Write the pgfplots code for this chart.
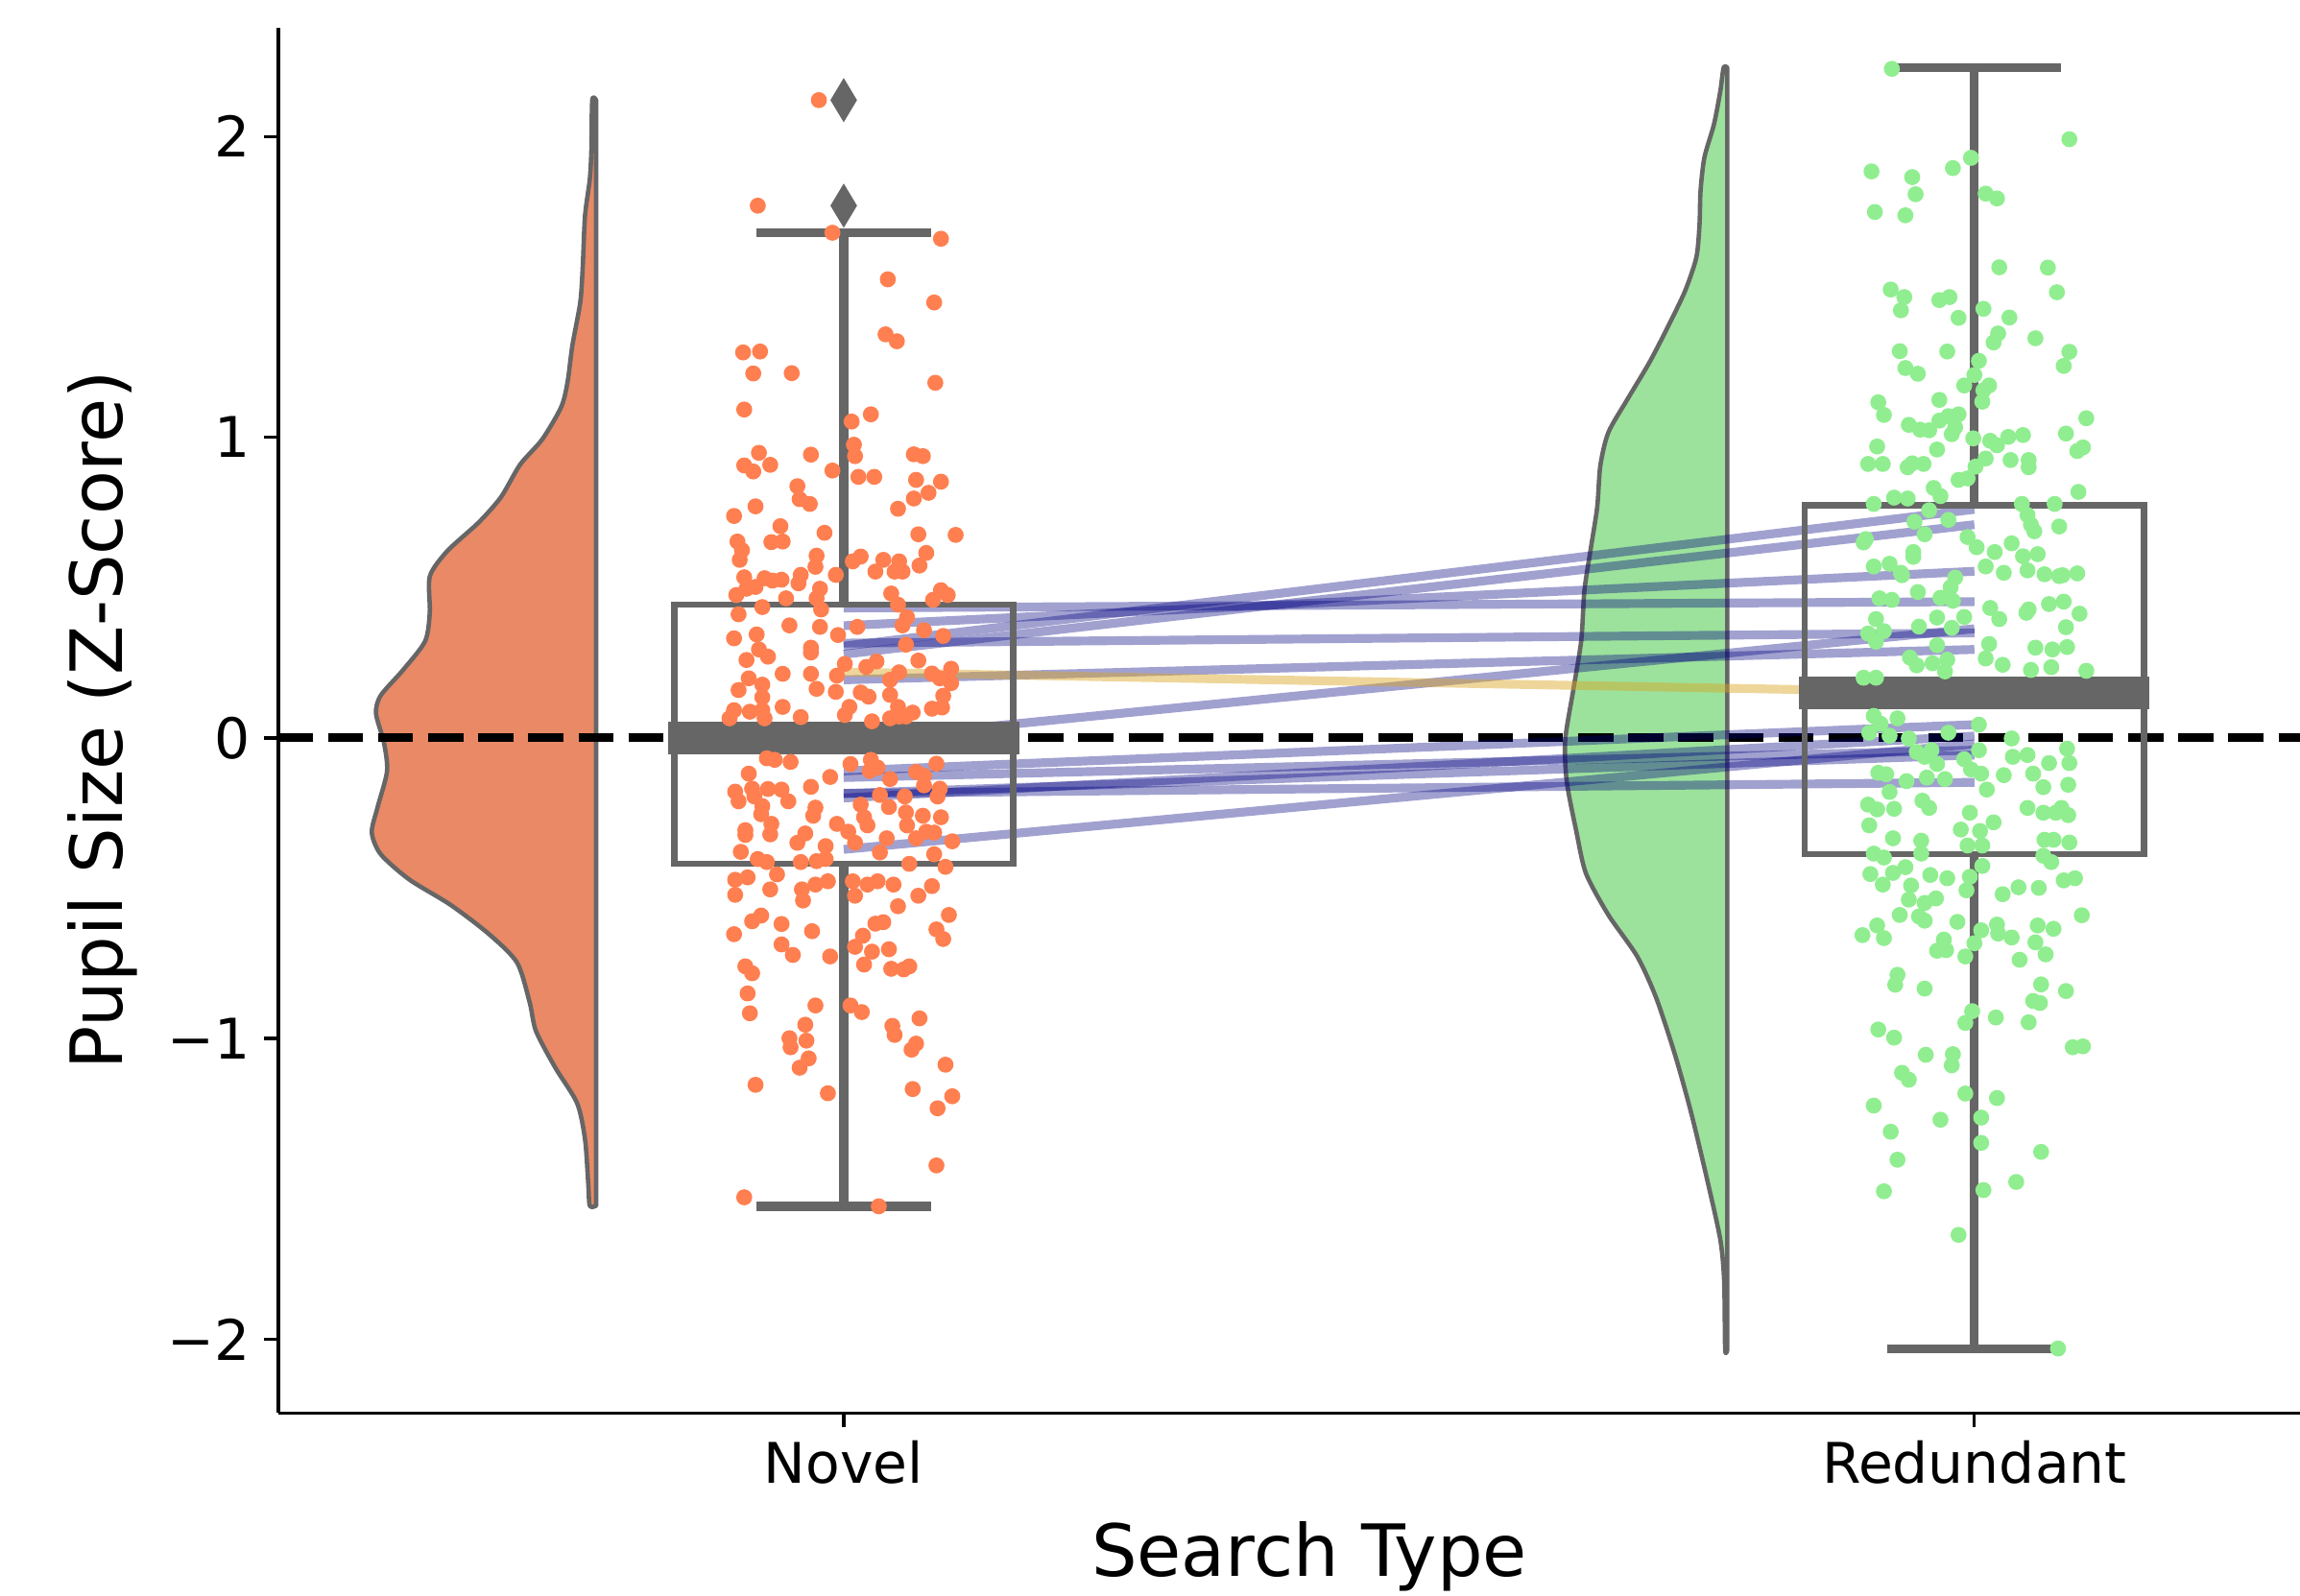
\documentclass[border=0pt]{standalone}
\usepackage{fontspec}
\setmainfont{DejaVu Sans}
\usepackage{pgfplots}
\usepackage{pgfplotstable}
\pgfplotsset{compat=1.18}
\definecolor{boxgray}{HTML}{666666}
\definecolor{novelpt}{HTML}{FF7F50}
\definecolor{novelvio}{HTML}{E98966}
\definecolor{redpt}{HTML}{90EE90}
\definecolor{redvio}{HTML}{9CE29C}
\definecolor{navyc}{HTML}{000080}
\definecolor{goldc}{HTML}{DAA520}

\pgfplotstableread{
x y
-0.022 2.121
-0.076 1.770
-0.010 1.680
0.086 1.660
0.039 1.525
0.080 1.448
0.037 1.342
0.047 1.319
-0.089 1.282
-0.074 1.285
-0.080 1.212
-0.046 1.213
0.081 1.181
-0.088 1.092
0.024 1.076
0.007 1.052
-0.075 0.948
-0.029 0.942
0.009 0.975
0.010 0.937
0.062 0.943
0.070 0.937
-0.088 0.906
-0.080 0.886
-0.065 0.908
-0.010 0.889
0.013 0.868
0.027 0.868
0.064 0.858
0.086 0.852
-0.041 0.837
-0.039 0.794
-0.030 0.778
0.062 0.796
0.075 0.815
-0.078 0.770
-0.097 0.738
0.048 0.762
-0.056 0.704
-0.017 0.682
0.066 0.677
0.099 0.675
-0.094 0.653
-0.090 0.624
-0.092 0.592
-0.064 0.651
-0.054 0.653
-0.024 0.606
0.015 0.603
0.008 0.587
0.035 0.592
0.049 0.587
0.073 0.615
0.067 0.573
-0.025 0.569
0.028 0.553
0.045 0.553
0.052 0.553
-0.007 0.542
-0.038 0.542
-0.088 0.534
-0.070 0.531
-0.063 0.523
-0.055 0.526
-0.040 0.514
-0.078 0.502
-0.086 0.496
-0.021 0.496
-0.095 0.475
0.042 0.480
0.086 0.491
0.092 0.475
-0.051 0.464
-0.024 0.464
0.079 0.459
0.048 0.443
-0.072 0.435
-0.093 0.411
-0.020 0.427
-0.048 0.374
-0.021 0.369
0.012 0.369
-0.077 0.344
-0.097 0.331
-0.005 0.342
0.052 0.374
0.071 0.358
0.088 0.339
-0.029 0.300
-0.029 0.284
-0.075 0.294
-0.067 0.270
-0.086 0.259
0.056 0.401
0.066 0.257
0.055 0.310
0.029 0.254
0.020 0.236
0.001 0.246
0.095 0.230
-0.054 0.213
-0.029 0.213
-0.084 0.198
-0.006 0.207
0.041 0.193
0.049 0.218
0.078 0.214
0.085 0.198
0.095 0.182
-0.072 0.177
-0.093 0.159
-0.024 0.163
-0.007 0.153
0.015 0.151
0.022 0.137
0.041 0.143
0.088 0.140
-0.072 0.135
-0.054 0.103
0.005 0.103
0.001 0.076
0.048 0.103
0.061 0.084
0.078 0.097
0.087 0.101
-0.097 0.092
-0.083 0.087
-0.072 0.092
-0.038 0.069
-0.101 0.065
-0.070 0.065
0.025 0.055
0.049 0.071
0.041 0.065
0.055 0.071
-0.068 -0.068
-0.061 -0.073
-0.047 -0.080
0.006 -0.087
0.024 -0.073
0.082 -0.086
0.030 -0.099
-0.084 -0.119
-0.012 -0.130
0.023 -0.110
0.064 -0.113
0.071 -0.126
0.041 -0.137
-0.029 -0.163
-0.096 -0.179
-0.081 -0.169
-0.067 -0.170
-0.055 -0.172
-0.049 -0.211
-0.093 -0.211
-0.079 -0.195
-0.072 -0.227
0.071 -0.158
0.085 -0.169
0.083 -0.195
0.054 -0.195
0.032 -0.190
-0.025 -0.232
-0.027 -0.259
0.015 -0.222
0.040 -0.230
0.055 -0.248
0.070 -0.259
0.086 -0.264
-0.073 -0.254
-0.064 -0.286
-0.087 -0.307
-0.087 -0.323
-0.065 -0.321
-0.006 -0.286
0.018 -0.264
0.021 -0.291
0.056 -0.291
-0.034 -0.318
-0.041 -0.349
-0.016 -0.360
0.004 -0.312
0.010 -0.349
0.038 -0.334
0.064 -0.334
0.073 -0.312
0.080 -0.315
0.096 -0.344
-0.091 -0.379
-0.076 -0.403
-0.068 -0.413
-0.038 -0.413
-0.024 -0.410
-0.016 -0.403
0.080 -0.387
0.032 -0.381
0.058 -0.419
0.090 -0.429
-0.096 -0.472
-0.085 -0.464
-0.059 -0.454
-0.037 -0.504
-0.036 -0.541
-0.025 -0.488
-0.014 -0.477
0.008 -0.477
0.021 -0.488
0.030 -0.477
0.044 -0.488
0.078 -0.493
0.066 -0.525
-0.096 -0.522
-0.065 -0.504
0.010 -0.525
0.048 -0.560
0.093 -0.589
-0.073 -0.591
-0.081 -0.610
-0.055 -0.619
-0.028 -0.643
0.028 -0.618
0.035 -0.613
0.082 -0.637
0.088 -0.669
-0.097 -0.653
0.017 -0.658
0.010 -0.695
-0.055 -0.687
0.025 -0.711
0.040 -0.703
-0.045 -0.722
-0.012 -0.727
-0.087 -0.760
-0.081 -0.783
-0.085 -0.850
-0.083 -0.916
-0.025 -0.890
-0.034 -0.954
-0.048 -0.999
-0.047 -1.029
-0.033 -1.007
-0.031 -1.066
-0.039 -1.097
-0.078 -1.154
-0.014 -1.182
0.018 -0.754
0.042 -0.768
0.053 -0.770
0.058 -0.760
0.006 -0.890
0.016 -0.912
0.067 -0.933
0.043 -0.958
0.045 -0.988
0.064 -1.017
0.060 -1.037
0.090 -1.087
0.061 -1.168
0.096 -1.192
0.083 -1.232
0.082 -1.422
-0.088 -1.528
0.031 -1.558
}\noveltab

\pgfplotstableread{
x y
0.927 2.225
1.084 1.991
0.909 1.884
0.945 1.865
0.948 1.808
0.912 1.749
0.939 1.738
0.981 1.895
0.997 1.929
1.010 1.810
1.020 1.794
1.022 1.565
1.065 1.564
1.073 1.482
0.926 1.491
0.938 1.466
0.935 1.422
0.969 1.456
0.978 1.466
1.008 1.427
0.986 1.397
1.031 1.398
1.021 1.345
1.017 1.315
1.054 1.329
1.084 1.284
1.079 1.237
0.934 1.286
0.976 1.285
0.939 1.230
0.950 1.211
1.004 1.254
1.000 1.207
0.991 1.172
1.013 1.172
1.008 1.156
0.969 1.124
1.007 1.118
0.915 1.116
0.920 1.074
0.942 1.041
0.952 1.025
0.960 1.023
0.969 1.055
0.977 1.070
0.986 1.076
0.983 1.033
0.980 1.010
1.099 1.063
1.081 1.012
0.999 0.996
1.014 0.988
1.020 0.973
1.030 1.001
1.043 1.007
1.091 0.954
1.096 0.966
0.914 0.969
0.967 0.959
0.906 0.911
0.919 0.911
0.941 0.900
0.945 0.913
0.955 0.911
1.010 0.929
1.032 0.924
1.048 0.924
1.048 0.900
1.001 0.902
0.986 0.858
0.994 0.863
0.911 0.778
0.929 0.799
0.941 0.796
0.964 0.831
0.970 0.804
1.092 0.818
1.042 0.778
1.071 0.778
1.047 0.741
1.075 0.703
1.050 0.709
1.053 0.687
0.904 0.661
0.902 0.650
0.947 0.719
0.956 0.677
0.994 0.668
1.002 0.634
0.977 0.725
0.960 0.757
1.018 0.618
1.033 0.647
1.043 0.604
1.056 0.611
0.946 0.618
0.946 0.602
0.911 0.570
0.925 0.579
0.935 0.549
0.936 0.541
1.010 0.570
1.026 0.549
1.047 0.557
1.062 0.544
1.075 0.538
1.078 0.541
1.091 0.547
0.983 0.533
0.979 0.501
0.950 0.485
0.916 0.464
0.927 0.459
0.970 0.466
0.981 0.456
1.014 0.432
1.022 0.395
1.046 0.416
1.048 0.427
1.066 0.445
1.079 0.453
1.093 0.413
0.913 0.395
0.967 0.400
0.991 0.402
0.951 0.370
0.980 0.366
0.906 0.347
0.920 0.355
0.913 0.320
1.081 0.368
1.013 0.312
1.054 0.300
1.069 0.294
1.082 0.302
0.967 0.308
0.943 0.267
0.949 0.241
0.963 0.248
0.976 0.260
0.974 0.221
1.010 0.264
1.025 0.243
1.050 0.226
1.068 0.235
1.099 0.223
0.902 0.200
0.913 0.200
0.911 0.073
0.917 0.047
0.932 0.065
0.907 0.017
0.925 0.007
0.942 -0.002
0.977 0.017
1.004 0.044
1.033 -0.002
1.004 -0.041
0.949 -0.047
0.956 -0.063
0.962 -0.041
0.967 -0.087
0.991 -0.071
0.997 -0.105
1.006 -0.119
1.034 -0.063
1.047 -0.057
1.066 -0.084
1.082 -0.036
1.084 -0.084
0.915 -0.116
0.922 -0.121
0.940 -0.144
0.958 -0.132
0.974 -0.137
1.011 -0.172
1.026 -0.124
1.052 -0.119
1.061 -0.164
1.083 -0.156
0.925 -0.180
0.906 -0.222
0.914 -0.238
0.929 -0.236
0.954 -0.209
0.960 -0.233
0.996 -0.249
1.017 -0.281
0.988 -0.305
1.005 -0.310
0.907 -0.291
0.928 -0.334
0.953 -0.342
1.047 -0.233
1.061 -0.249
1.077 -0.233
1.072 -0.249
1.083 -0.257
1.062 -0.339
1.070 -0.339
1.084 -0.348
0.911 -0.385
0.920 -0.398
0.994 -0.358
1.007 -0.358
0.953 -0.385
1.061 -0.392
1.068 -0.413
1.007 -0.426
0.939 -0.430
0.928 -0.449
0.908 -0.453
0.961 -0.456
0.976 -0.467
0.996 -0.462
0.919 -0.488
0.944 -0.491
0.993 -0.507
1.025 -0.520
1.039 -0.497
1.057 -0.499
1.079 -0.474
1.089 -0.467
0.942 -0.538
0.956 -0.549
0.966 -0.534
0.934 -0.589
0.951 -0.594
0.956 -0.608
0.985 -0.612
1.020 -0.621
1.021 -0.651
1.033 -0.664
1.056 -0.624
1.070 -0.635
1.095 -0.590
0.901 -0.656
0.914 -0.624
0.920 -0.666
0.973 -0.671
0.967 -0.708
0.975 -0.706
1.000 -0.683
1.006 -0.640
1.054 -0.680
1.063 -0.720
1.040 -0.738
0.992 -0.727
0.932 -0.788
0.930 -0.821
0.956 -0.834
1.059 -0.820
1.081 -0.842
1.052 -0.875
1.058 -0.882
0.998 -0.909
0.992 -0.948
1.019 -0.930
1.048 -0.946
0.915 -0.970
0.929 -0.997
0.957 -1.054
0.981 -1.052
0.980 -1.089
1.087 -1.029
1.096 -1.026
0.936 -1.114
0.942 -1.137
0.992 -1.183
1.020 -1.198
0.911 -1.223
0.970 -1.270
1.006 -1.263
0.926 -1.310
1.006 -1.347
1.059 -1.377
0.932 -1.403
1.037 -1.477
0.920 -1.508
1.008 -1.504
0.986 -1.653
1.074 -2.031
}\redtab

\begin{document}
\begin{tikzpicture}
\begin{axis}[
  scale only axis,
  width=505.4bp, height=346.3bp,
  xmin=-0.5, xmax=1.288,
  ymin=-2.245, ymax=2.361,
  axis x line*=bottom, axis y line*=left,
  axis line style={-, line width=0.8bp, black},
  xtick={0,1}, xticklabels={Novel,Redundant},
  ytick={-2,-1,0,1,2}, yticklabels={−2,−1,0,1,2},
  xtick pos=left, ytick pos=left,
  tick align=outside,
  major tick length=3.5bp,
  every tick/.style={black, line width=0.8bp},
  tick label style={font=\fontsize{14bp}{17bp}\selectfont, black},
  clip=true,
]
\coordinate (sw) at (rel axis cs:0,0);
\coordinate (ne) at (rel axis cs:1,1);
\coordinate (lblY) at (rel axis cs:0,0.5);
\coordinate (lblX) at (rel axis cs:0.51,0);

% half violins
\addplot[fill=novelvio, draw=boxgray, line width=1.1bp, line join=round, smooth, tension=0.45] coordinates {
(-0.219,2.121) (-0.2224,2.121) (-0.2232,1.953) (-0.2246,1.857) (-0.2288,1.737)
(-0.2308,1.569) (-0.2330,1.449) (-0.2400,1.305) (-0.2442,1.185) (-0.2498,1.101)
(-0.2666,0.993) (-0.2862,0.909) (-0.3031,0.801) (-0.3227,0.717) (-0.3507,0.621)
(-0.3661,0.537) (-0.3661,0.417) (-0.3703,0.321) (-0.3899,0.225) (-0.4095,0.141)
(-0.4137,0.081) (-0.4067,-0.015) (-0.4039,-0.111) (-0.4123,-0.231) (-0.4174,-0.315)
(-0.4095,-0.387) (-0.3843,-0.471) (-0.3479,-0.555) (-0.3143,-0.651) (-0.2890,-0.747)
(-0.2778,-0.879) (-0.2722,-0.975) (-0.2554,-1.095) (-0.2358,-1.215) (-0.2288,-1.335)
(-0.2260,-1.479) (-0.2246,-1.556) (-0.219,-1.556)
} -- cycle;
\addplot[fill=redvio, draw=boxgray, line width=1.1bp, line join=round, smooth, tension=0.45] coordinates {
(0.7815,2.229) (0.7782,2.229) (0.7753,2.151) (0.7697,2.041) (0.7612,1.930)
(0.7578,1.819) (0.7569,1.708) (0.7541,1.598) (0.7442,1.487) (0.7301,1.376)
(0.7131,1.252) (0.6933,1.127) (0.6763,1.016) (0.6692,0.906) (0.6664,0.767)
(0.6607,0.629) (0.6551,0.490) (0.6523,0.324) (0.6452,0.158) (0.6381,-0.008)
(0.6395,-0.146) (0.6480,-0.312) (0.6565,-0.451) (0.6763,-0.589) (0.7018,-0.727)
(0.7187,-0.866) (0.7357,-1.060) (0.7499,-1.253) (0.7640,-1.475) (0.7753,-1.669)
(0.7787,-1.807) (0.7796,-2.034) (0.7815,-2.034)
} -- cycle;

% strip points
\addplot[only marks, color=novelpt, mark=*, mark size=1.8bp, mark options={solid, draw=none, fill=novelpt}] table[x=x, y=y] {\noveltab};
\addplot[only marks, color=redpt, mark=*, mark size=1.8bp, mark options={solid, draw=none, fill=redpt}] table[x=x, y=y] {\redtab};

% zero reference line
\addplot[black, line width=2.2bp, dash pattern=on 8.7bp off 3.8bp] coordinates {(-0.5,0) (1.288,0)};

% participant lines
\pgfplotsset{pline/.style={navyc, opacity=0.37, line width=2.2bp}}
\addplot[pline] coordinates {(0,0.305) (1,0.760)};
\addplot[pline] coordinates {(0,0.278) (1,0.709)};
\addplot[pline] coordinates {(0,0.373) (1,0.554)};
\addplot[pline] coordinates {(0,0.432) (1,0.453)};
\addplot[pline] coordinates {(0,0.315) (1,0.349)};
\addplot[pline] coordinates {(0,0.193) (1,0.294)};
\addplot[pline] coordinates {(0,-0.010) (1,0.363)};
\addplot[pline] coordinates {(0,-0.371) (1,-0.020)};
\addplot[pline] coordinates {(0,-0.185) (1,-0.148)};
\addplot[pline] coordinates {(0,-0.185) (1,-0.057)};
\addplot[pline] coordinates {(0,-0.200) (1,0.006)};
\addplot[pline] coordinates {(0,-0.132) (1,-0.041)};
\addplot[pline] coordinates {(0,-0.110) (1,0.044)};
\addplot[goldc, opacity=0.45, line width=2.2bp] coordinates {(0,0.219) (1,0.150)};

% boxplots
\pgfplotsset{bxl/.style={boxgray, line width=1.6bp}, wsk/.style={boxgray, line width=2.2bp}}
\addplot[bxl] coordinates {(-0.15,-0.419) (0.15,-0.419) (0.15,0.443) (-0.15,0.443)} -- cycle;
\addplot[wsk] coordinates {(0,0.443) (0,1.679)};
\addplot[wsk] coordinates {(0,-0.419) (0,-1.558)};
\addplot[wsk] coordinates {(-0.077,1.679) (0.077,1.679)};
\addplot[wsk] coordinates {(-0.077,-1.558) (0.077,-1.558)};
\addplot[boxgray, line width=8bp] coordinates {(-0.155,0) (0.155,0)};

\addplot[bxl] coordinates {(0.85,-0.387) (1.15,-0.387) (1.15,0.773) (0.85,0.773)} -- cycle;
\addplot[wsk] coordinates {(1,0.773) (1,2.229)};
\addplot[wsk] coordinates {(1,-0.387) (1,-2.033)};
\addplot[wsk] coordinates {(0.923,2.229) (1.077,2.229)};
\addplot[wsk] coordinates {(0.923,-2.033) (1.077,-2.033)};
\addplot[boxgray, line width=8bp] coordinates {(0.845,0.150) (1.155,0.150)};

% outliers
\addplot[only marks, color=boxgray, mark=diamond*, mark size=5.15bp, mark options={solid, fill=boxgray, draw=none, xscale=0.8}] coordinates {(0,2.121) (0,1.770)};
\end{axis}
\path (lblY) ++(-43.9bp,0) node[rotate=90, anchor=center, font=\fontsize{18bp}{22bp}\selectfont] {Pupil Size (Z-Score)};
\path (lblX) ++(0,-36bp) node[anchor=center, font=\fontsize{18bp}{22bp}\selectfont] {Search Type};
\pgfresetboundingbox
\path[use as bounding box] ([shift={(-69.6bp,-45.6bp)}]sw) rectangle ([shift={(0bp,7bp)}]ne);
\end{tikzpicture}
\end{document}
